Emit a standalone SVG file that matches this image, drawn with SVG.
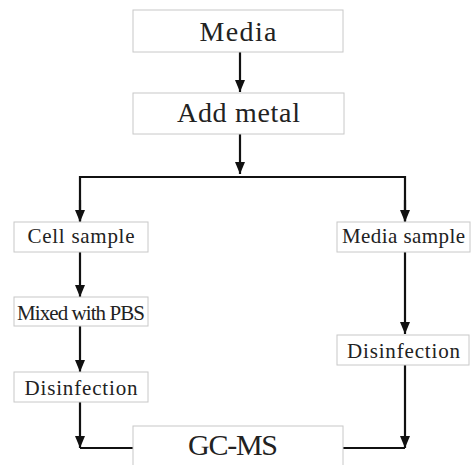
<svg xmlns="http://www.w3.org/2000/svg" width="471" height="465" viewBox="0 0 471 465">
<style>
.box{fill:#fff;stroke:#c8c8c8;stroke-width:1}
.t{font-family:"Liberation Serif","Times New Roman",serif;fill:#222;text-anchor:middle}
.big{font-size:28px}
.sm{font-size:21px}
.ln{fill:none;stroke:#111;stroke-width:2.2}
</style>
<defs>
<marker id="ah" markerWidth="12" markerHeight="10" refX="12" refY="5" orient="auto" markerUnits="userSpaceOnUse" viewBox="0 0 12 10">
<path d="M0,0 L12,5 L0,10 Z" fill="#111"/>
</marker>
</defs>
<rect width="471" height="465" fill="#fff"/>
<g id="connectors">
<line class="ln" x1="240" y1="52" x2="240" y2="92" marker-end="url(#ah)"/>
<line class="ln" x1="240" y1="134" x2="240" y2="174" marker-end="url(#ah)"/>
<polyline class="ln" points="80,221 80,177 405,177 405,221"/>
<line class="ln" x1="80" y1="200" x2="80" y2="222" marker-end="url(#ah)"/>
<line class="ln" x1="405" y1="200" x2="405" y2="222" marker-end="url(#ah)"/>
<line class="ln" x1="80" y1="252" x2="80" y2="297" marker-end="url(#ah)"/>
<line class="ln" x1="80" y1="326" x2="80" y2="372" marker-end="url(#ah)"/>
<line class="ln" x1="80" y1="402" x2="80" y2="448" marker-end="url(#ah)"/>
<polyline class="ln" points="80,448 133,448"/>
<line class="ln" x1="405" y1="252" x2="405" y2="334" marker-end="url(#ah)"/>
<line class="ln" x1="405" y1="365" x2="405" y2="448" marker-end="url(#ah)"/>
<polyline class="ln" points="343,448 405,448"/>
</g>
<g id="media">
<rect class="box" x="133" y="10" width="210" height="42"/>
<text class="t big" x="238" y="41" textLength="77" lengthAdjust="spacing">Media</text>
</g>
<g id="add-metal">
<rect class="box" x="133" y="93" width="211" height="41"/>
<text class="t big" x="238.5" y="122" textLength="123" lengthAdjust="spacing">Add metal</text>
</g>
<g id="cell-sample">
<rect class="box" x="14" y="222" width="134" height="30"/>
<text class="t sm" x="81" y="243" textLength="107" lengthAdjust="spacing">Cell sample</text>
</g>
<g id="mixed-pbs">
<rect class="box" x="14" y="297" width="134" height="29"/>
<text class="t sm" x="81" y="320" textLength="128" lengthAdjust="spacing">Mixed with PBS</text>
</g>
<g id="disinfection-left">
<rect class="box" x="14" y="372" width="134" height="30"/>
<text class="t sm" x="81" y="395" textLength="113" lengthAdjust="spacing">Disinfection</text>
</g>
<g id="media-sample">
<rect class="box" x="337" y="222" width="133" height="30"/>
<text class="t sm" x="403.5" y="243" textLength="123" lengthAdjust="spacing">Media sample</text>
</g>
<g id="disinfection-right">
<rect class="box" x="337" y="335" width="132" height="30"/>
<text class="t sm" x="403.5" y="358" textLength="113" lengthAdjust="spacing">Disinfection</text>
</g>
<g id="gc-ms">
<rect class="box" x="133" y="426" width="210" height="45"/>
<text class="t big" x="233" y="455" textLength="90" lengthAdjust="spacing" style="font-size:30px">GC-MS</text>
</g>
</svg>
